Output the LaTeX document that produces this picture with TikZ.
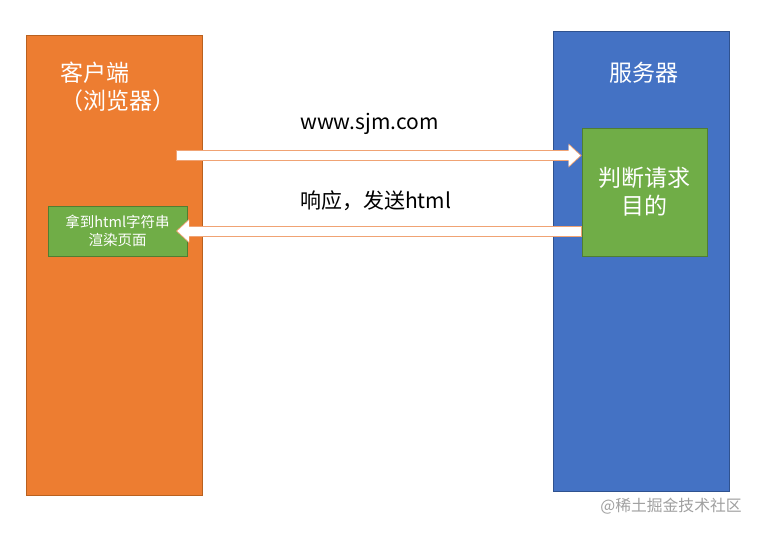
\documentclass[tikz,border=0pt]{standalone}
\usepackage{fontspec}
\newfontfamily\cjk{Noto Sans CJK SC}
\usetikzlibrary{arrows.meta, positioning}

\definecolor{clientfill}{HTML}{ED7D31}
\definecolor{clientline}{HTML}{B9611F}
\definecolor{serverfill}{HTML}{4472C4}
\definecolor{serverline}{HTML}{2F528F}
\definecolor{greenfill}{HTML}{70AD47}
\definecolor{greenline}{HTML}{507E32}
\definecolor{arrowline}{HTML}{F0A374}
\definecolor{markgray}{HTML}{A0A0A0}

\tikzset{
  panel/.style={draw, line width=0.8pt, minimum width=176pt, minimum height=460pt, inner sep=0pt},
  innerbox/.style={draw=greenline, fill=greenfill, line width=0.8pt, inner sep=0pt, text=white, align=center},
  titletext/.style={text=white, align=left, inner sep=0pt, font=\cjk\fontsize{23}{28}\selectfont},
  msgtext/.style={text=black, inner sep=0pt, font=\cjk\fontsize{21}{25}\selectfont},
  blockarrow/.style={draw=white, line width=9pt,
    -{Triangle[length=11.6pt, width=21.6pt, line width=0pt]},
    shorten >=1.4pt, shorten <=0.9pt,
    preaction={draw=arrowline, line width=11pt,
      -{Triangle[length=13pt, width=24pt, line width=0pt]},
      shorten >=0pt, shorten <=0pt}},
}

\begin{document}
\begin{tikzpicture}[x=1pt, y=-1pt]
  \useasboundingbox[fill=white] (0,0) rectangle (759,532);

  % the two sides
  \node[panel, fill=clientfill, draw=clientline] (client) at (114,265) {};
  \node[panel, fill=serverfill, draw=serverline] (server) at (641,261) {};

  % titles
  \node[titletext, anchor=west] (clientname) at (60,87) {客户端\\（浏览器）};
  \node[titletext] (servername) at (644,73) {服务器};

  % inner steps
  \node[innerbox, minimum width=125pt, minimum height=128pt,
        font=\cjk\fontsize{23}{28}\selectfont] (judge) at (644.5,192) {判断请求\\目的};
  \node[innerbox, minimum width=139pt, minimum height=50pt,
        font=\cjk\fontsize{14.5}{18}\selectfont] (render) at (117.5,231) {拿到html字符串\\渲染页面};

  % messages
  \node[msgtext, anchor=west] (reqname) at (300,124) {www.sjm.com};
  \node[msgtext, anchor=west] (respname) at (300,201) {响应，发送html};

  \coordinate (reqtail) at (176,155.5);
  \coordinate (resptip) at (176,231);
  \draw[blockarrow] (reqtail) -- (reqtail -| judge.west);
  \draw[blockarrow] (resptip -| judge.west) -- (resptip);

  % watermark
  \node[text=markgray, inner sep=0pt, font=\cjk\fontsize{15.8}{18}\selectfont] (mark) at (671,506) {@稀土掘金技术社区};
\end{tikzpicture}
\end{document}
